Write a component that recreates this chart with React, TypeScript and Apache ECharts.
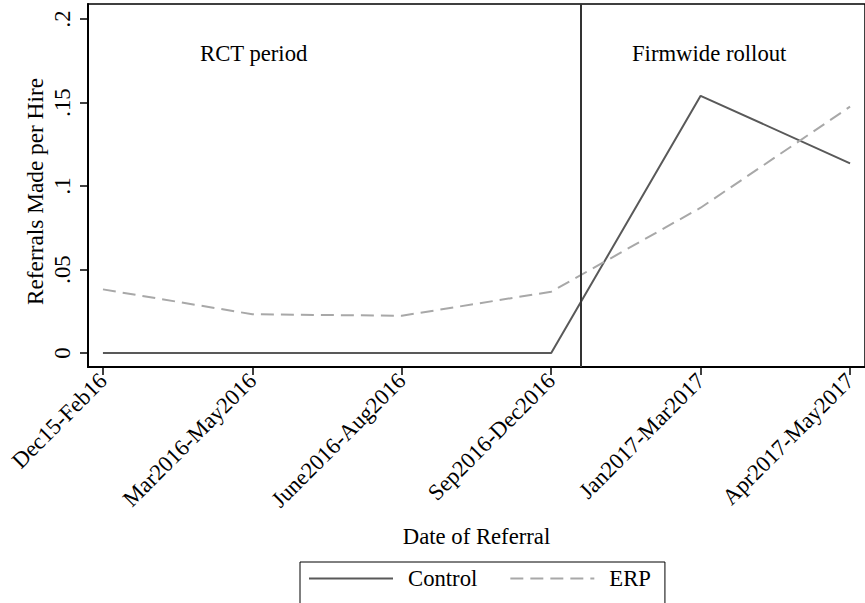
import React, { useEffect, useRef } from "react";
import * as echarts from "echarts";

const categories = [
  "Dec15-Feb16",
  "Mar2016-May2016",
  "June2016-Aug2016",
  "Sep2016-Dec2016",
  "Jan2017-Mar2017",
  "Apr2017-May2017",
];
const controlValues = [0, 0, 0, 0, 0.154, 0.1136];
const erpValues = [0.0381, 0.0232, 0.0223, 0.0367, 0.087, 0.1475];
const yTicks = [0, 0.05, 0.1, 0.15, 0.2];
const yTickLabels = ["0", ".05", ".1", ".15", ".2"];
const rolloutPosition = 3.2;
const annotations = ["RCT period", "Firmwide rollout"];

const FONT = "'Liberation Serif', 'Times New Roman', serif";
const FS = 22.7;

export default function App() {
  const ref = useRef<HTMLDivElement>(null);
  useEffect(() => {
    if (!ref.current) return;
    const chart = echarts.init(ref.current, null, { renderer: "svg" });
    const xIdx = categories.map((_, i) => i);
    chart.setOption({
      animation: false,
      backgroundColor: "#ffffff",
      textStyle: { fontFamily: FONT, color: "#000" },
      grid: {
        left: 88,
        top: 4,
        width: 787,
        height: 363,
        show: true,
        borderColor: "#000",
        borderWidth: 1.5,
        backgroundColor: "transparent",
      },
      legend: {
        left: 300,
        top: 562,
        itemWidth: 84,
        itemHeight: 14,
        itemGap: 32,
        padding: [5, 14, 30, 8],
        borderColor: "#000",
        borderWidth: 1,
        selectedMode: false,
        itemStyle: { opacity: 0 },
        textStyle: { fontFamily: FONT, fontSize: FS, color: "#000", padding: [0, 0, 0, 10] },
        data: ["Control", "ERP"],
      },
      xAxis: {
        type: "value",
        min: -0.1,
        max: 5.1,
        name: "Date of Referral",
        nameLocation: "middle",
        nameGap: 158,
        nameTextStyle: { fontFamily: FONT, fontSize: FS, color: "#000" },
        splitLine: { show: false },
        axisLine: { show: true, onZero: false, lineStyle: { color: "#000", width: 2 } },
        axisTick: {
          show: true,
          length: 8,
          lineStyle: { color: "#000", width: 1.5 },
          customValues: xIdx,
        },
        axisLabel: {
          rotate: 45,
          margin: 10,
          fontFamily: FONT,
          fontSize: FS,
          color: "#000",
          customValues: xIdx,
          formatter: (v: number) => categories[Math.round(v)] ?? "",
        },
      },
      yAxis: {
        type: "value",
        min: -0.00838,
        max: 0.20898,
        name: "Referrals Made per Hire",
        nameLocation: "middle",
        nameGap: 42,
        nameTextStyle: { fontFamily: FONT, fontSize: 23.3, color: "#000", padding: [0, 12, 0, 0] },
        splitLine: { show: false },
        axisLine: { show: true, onZero: false, lineStyle: { color: "#000", width: 2 } },
        axisTick: {
          show: true,
          length: 8,
          lineStyle: { color: "#000", width: 1.5 },
          customValues: yTicks,
        },
        axisLabel: { show: false },
      },
      series: [
        {
          name: "Control",
          type: "line",
          data: controlValues.map((v, i) => [i, v]),
          symbol: "none",
          clip: false,
          lineStyle: { color: "#595959", width: 2, type: "solid" },
          itemStyle: { color: "#595959" },
          markLine: {
            silent: true,
            symbol: "none",
            label: { show: false },
            lineStyle: { color: "#333", width: 2, type: "solid" },
            data: [{ xAxis: rolloutPosition }],
          },
        },
        {
          name: "ERP",
          type: "line",
          data: erpValues.map((v, i) => [i, v]),
          symbol: "none",
          clip: false,
          lineStyle: { color: "#a8a8a8", width: 2, type: [13, 7] },
          itemStyle: { color: "#a8a8a8" },
        },
      ],
    });

    const axisX = chart.convertToPixel({ xAxisIndex: 0 }, -0.1) as number;
    const tickLabelGraphics = yTicks.map((t, i) => ({
      type: "text",
      x: axisX - 14,
      y: chart.convertToPixel({ yAxisIndex: 0 }, t) as number,
      rotation: Math.PI / 2,
      style: {
        text: yTickLabels[i],
        fontFamily: FONT,
        fontSize: FS,
        fill: "#000",
        align: "center",
        verticalAlign: "bottom",
      },
    }));

    chart.setOption({
      graphic: [
        {
          type: "text",
          x: 200,
          y: 53,
          style: {
            text: annotations[0],
            fontFamily: FONT,
            fontSize: FS,
            fill: "#000",
            verticalAlign: "middle",
          },
        },
        {
          type: "text",
          x: 632,
          y: 53,
          style: {
            text: annotations[1],
            fontFamily: FONT,
            fontSize: FS,
            fill: "#000",
            verticalAlign: "middle",
          },
        },
        ...tickLabelGraphics,
      ],
    });
    return () => chart.dispose();
  }, []);
  return (
    <div
      ref={ref}
      style={{ position: "fixed", left: 0, top: 0, width: 865, height: 603, background: "#fff" }}
    />
  );
}
